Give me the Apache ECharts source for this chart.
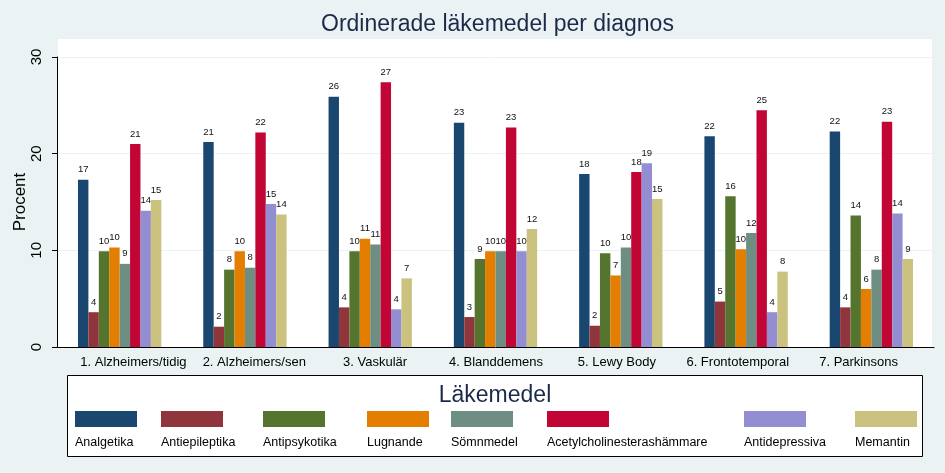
<!DOCTYPE html>
<html>
<head>
<meta charset="utf-8">
<script src="https://cdn.jsdelivr.net/npm/echarts@6/dist/echarts.min.js"></script>
<style>html,body{margin:0;padding:0;background:#eaf2f3;}#c{width:945px;height:473px;}</style>
</head>
<body>
<div id="c"></div>
<script>
// ---- data ----
const categories = ["1. Alzheimers/tidig", "2. Alzheimers/sen", "3. Vaskulär", "4. Blanddemens", "5. Lewy Body", "6. Frontotemporal", "7. Parkinsons"];
const seriesNames = ["Analgetika", "Antiepileptika", "Antipsykotika", "Lugnande", "Sömnmedel", "Acetylcholinesterashämmare", "Antidepressiva", "Memantin"];
const analgetika = [17.3, 21.2, 25.9, 23.2, 17.9, 21.8, 22.3];
const antiepileptika = [3.6, 2.1, 4.1, 3.1, 2.2, 4.7, 4.1];
const antipsykotika = [9.9, 8.0, 9.9, 9.1, 9.7, 15.6, 13.6];
const lugnande = [10.3, 9.9, 11.2, 9.9, 7.4, 10.1, 6.0];
const somnmedel = [8.6, 8.2, 10.6, 9.9, 10.3, 11.8, 8.0];
const acetylcholinesterashammare = [21.0, 22.2, 27.4, 22.7, 18.1, 24.5, 23.3];
const antidepressiva = [14.1, 14.8, 3.9, 9.9, 19.0, 3.6, 13.8];
const memantin = [15.2, 13.7, 7.1, 12.2, 15.3, 7.8, 9.1];
const yTicks = [0, 10, 20, 30];

// ---- styles / layout ----
const values = [analgetika, antiepileptika, antipsykotika, lugnande, somnmedel, acetylcholinesterashammare, antidepressiva, memantin];
const colors = ["#1a476f", "#90353b", "#55752f", "#e37e00", "#6e8e84", "#c10534", "#938dd2", "#cac27e"];
const legendX = [75, 161, 263, 367, 451, 547, 744, 855];
const FONT = "'Liberation Sans', Arial, sans-serif";

const chart = echarts.init(document.getElementById('c'), null, {renderer: 'canvas'});

const series = seriesNames.map((n, i) => ({
  name: n,
  type: 'bar',
  xAxisIndex: 0, yAxisIndex: 0,
  data: values[i],
  barGap: '0%',
  barCategoryGap: '33.5%',
  itemStyle: {color: colors[i]},
  label: {
    show: true, position: 'top', distance: 5,
    formatter: p => Math.round(p.value),
    fontFamily: FONT, fontSize: 9.5, color: '#111'
  },
  emphasis: {disabled: true},
  animation: false
}));

const legends = seriesNames.map((n, i) => ({
  data: [n], left: legendX[i], top: 411, padding: 0, itemGap: 0,
  itemWidth: 62, itemHeight: 16, icon: 'rect', selectedMode: false,
  formatter: () => '', textStyle: {fontSize: 1}
}));

const graphics = [
  {type: 'rect', z: -10, shape: {x: 58, y: 39, width: 874, height: 308}, style: {fill: '#ffffff'}},
  {type: 'rect', z: -10, shape: {x: 67.5, y: 375.5, width: 855, height: 81}, style: {fill: '#ffffff', stroke: '#000', lineWidth: 1}},
  {type: 'text', x: 495, y: 396, style: {text: 'Läkemedel', font: '23px ' + FONT, fill: '#1c2a4a', textAlign: 'center', textVerticalAlign: 'middle'}}
].concat(seriesNames.map((n, i) => ({
  type: 'text', x: legendX[i], y: 443,
  style: {text: n, font: '12.5px ' + FONT, fill: '#000', textAlign: 'left', textVerticalAlign: 'middle'}
})));

chart.setOption({
  backgroundColor: '#eaf2f3',
  animation: false,
  title: {
    text: 'Ordinerade läkemedel per diagnos',
    left: 321, top: 13, padding: 0,
    textStyle: {fontFamily: FONT, fontSize: 23, fontWeight: 'normal', color: '#1c2a4a'}
  },
  grid: [
    {left: 57, right: 11, top: 57, bottom: 126, containLabel: false, outerBoundsMode: 'none'},
    {left: 73, right: 26, top: 57, bottom: 126, containLabel: false, outerBoundsMode: 'none'}
  ],
  xAxis: [{
    type: 'category', data: categories, gridIndex: 0,
    axisLine: {lineStyle: {color: '#000', width: 1}},
    axisTick: {show: false},
    axisLabel: {show: false},
    splitLine: {show: false}
  }, {
    type: 'category', data: categories, gridIndex: 1,
    axisLine: {show: false},
    axisTick: {show: false},
    axisLabel: {fontFamily: FONT, fontSize: 13, color: '#000', margin: 9, interval: 0},
    splitLine: {show: false}
  }],
  yAxis: [{
    type: 'value', gridIndex: 0, min: yTicks[0], max: yTicks[yTicks.length - 1], interval: yTicks[1] - yTicks[0],
    name: 'Procent', nameLocation: 'middle', nameGap: 28, nameRotate: 90, nameMoveOverlap: false,
    nameTextStyle: {fontFamily: FONT, fontSize: 17, color: '#000'},
    axisLine: {show: true, lineStyle: {color: '#000', width: 1}},
    axisTick: {show: true, length: 5, lineStyle: {color: '#000'}},
    axisLabel: {fontFamily: FONT, fontSize: 15, color: '#000', rotate: 90, margin: 13},
    splitLine: {show: true, lineStyle: {color: '#eaf2f3', width: 1}}
  }, {
    type: 'value', gridIndex: 1, min: 0, max: 30, show: false, splitLine: {show: false}
  }],
  legend: legends,
  graphic: graphics,
  series: series
});
</script>
</body>
</html>
